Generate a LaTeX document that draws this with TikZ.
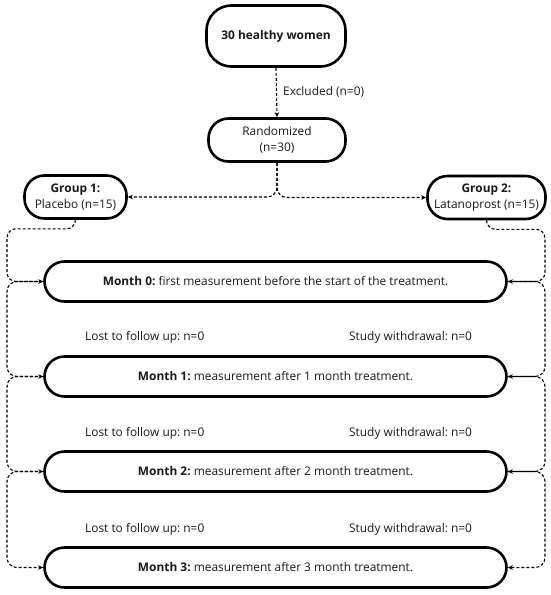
\documentclass[tikz,border=0pt]{standalone}
\usepackage{fontspec}
\setmainfont{Open Sans}
\usetikzlibrary{arrows.meta,calc}
\frenchspacing
\begin{document}
\begin{tikzpicture}[x=1pt,y=-1pt,
  box/.style={draw, line width=2.6pt, align=center, inner sep=0pt, text=black!90,
    font=\fontsize{11.9}{16}\selectfont},
  conn/.style={line width=1.1pt, dash pattern=on 3pt off 2pt,
    -{Stealth[length=5pt,width=4.5pt]}},
  note/.style={font=\fontsize{11.9}{14}\selectfont, text=black!90, inner sep=0pt},
]
\useasboundingbox (0,0) rectangle (550,595);
\coordinate (lrail) at (7,0);
\coordinate (rrail) at (545,0);

\node[box, minimum width=139pt, minimum height=61pt, rounded corners=25pt] (top) at (276,36) {\bfseries 30 healthy women};
\node[box, minimum width=137pt, minimum height=43pt, rounded corners=20pt] (rand) at (277,140) {Randomized\\(n=30)};
\node[box, minimum width=102pt, minimum height=43pt, rounded corners=20pt] (g1) at (75.5,197) {\bfseries Group 1:\\Placebo (n=15)};
\node[box, minimum width=118pt, minimum height=43pt, rounded corners=20pt] (g2) at (486.5,197.5) {\bfseries Group 2:\\Latanoprost (n=15)};

\node[box, minimum width=462pt, minimum height=40pt, rounded corners=20pt] (m0) at (275.5,281.5) {\textbf{Month 0:} first measurement before the start of the treatment.};
\node[box, minimum width=462pt, minimum height=40pt, rounded corners=20pt] (m1) at (275.5,376.5) {\textbf{Month 1:} measurement after 1 month treatment.};
\node[box, minimum width=462pt, minimum height=40pt, rounded corners=20pt] (m2) at (275.5,471.5) {\textbf{Month 2:} measurement after 2 month treatment.};
\node[box, minimum width=462pt, minimum height=40pt, rounded corners=20pt] (m3) at (275.5,567.5) {\textbf{Month 3:} measurement after 3 month treatment.};

\node[note, anchor=west] (exc) at (283,92) {Excluded (n=0)};
\node[note, anchor=west] (l1) at (85,337) {Lost to follow up: n=0};
\node[note, anchor=west] (w1) at (349,337) {Study withdrawal: n=0};
\node[note, anchor=west] (l2) at (85,433) {Lost to follow up: n=0};
\node[note, anchor=west] (w2) at (349,433) {Study withdrawal: n=0};
\node[note, anchor=west] (l3) at (85,529) {Lost to follow up: n=0};
\node[note, anchor=west] (w3) at (349,529) {Study withdrawal: n=0};

\draw[conn] (top.south) -- (rand.north);
\draw[conn, rounded corners=10pt] (rand.south) |- (g1.east);
\draw[conn, rounded corners=10pt] (rand.south) |- (g2.west);

\draw[conn, rounded corners=9pt] (g1.south) -- ++(0,9) -| (lrail |- m0.west) -- (m0.west);
\draw[conn, rounded corners=9pt] (g2.south) -- ++(0,9) -| (rrail |- m0.east) -- (m0.east);

\draw[conn, rounded corners=10pt] (m0.west) -| (lrail |- m1.west) -- (m1.west);
\draw[conn, rounded corners=10pt] (m1.west) -| (lrail |- m2.west) -- (m2.west);
\draw[conn, rounded corners=10pt] (m2.west) -| (lrail |- m3.west) -- (m3.west);
\draw[conn, rounded corners=10pt] (m0.east) -| (rrail |- m1.east) -- (m1.east);
\draw[conn, rounded corners=10pt] (m1.east) -| (rrail |- m2.east) -- (m2.east);
\draw[conn, rounded corners=10pt] (m2.east) -| (rrail |- m3.east) -- (m3.east);
\end{tikzpicture}
\end{document}
